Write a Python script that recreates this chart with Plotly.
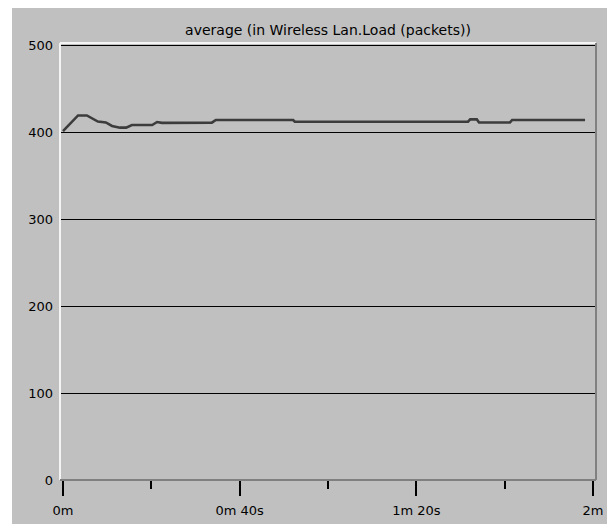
import plotly.graph_objects as go

# Average wireless LAN load over the 2-minute run (time in seconds, load in packets)
time_s = [0.0, 1.1, 2.0, 3.4, 5.4, 6.6, 7.9, 9.7, 11.1, 12.9, 14.3, 15.6, 20.2,
          21.3, 22.4, 33.7, 34.6, 52.1, 52.5, 91.7, 92.2, 93.7, 94.2, 101.2,
          101.7, 118.2]
load_packets = [401, 407, 412, 419, 419, 416, 412, 411, 407, 405, 405, 408, 408,
                411.5, 410.5, 410.7, 413.8, 413.8, 411.8, 411.8, 414.5, 414.5,
                411, 411, 413.8, 413.8]

x_tick_vals = [0, 40, 80, 120]
x_tick_text = ["0m", "0m 40s", "1m 20s", "2m"]
y_tick_vals = [0, 100, 200, 300, 400, 500]

title_text = "average (in Wireless Lan.Load (packets))"

FONT = "DejaVu Sans"
PANEL = "#c0c0c0"

fig = go.Figure()
fig.add_trace(go.Scatter(
    x=time_s, y=load_packets, mode="lines",
    line=dict(color="#3c3c3c", width=2.6),
    hoverinfo="skip", showlegend=False,
))

# window background: grey panel with a thin white strip on top and left
shapes = [
    dict(type="rect", xref="paper", yref="paper", layer="below",
         x0=(12 - 60) / 536, x1=(607 - 60) / 536,
         y0=(480 - 524) / 437, y1=(480 - 8) / 437,
         fillcolor=PANEL, line=dict(width=0)),
    # sunken frame around the plotting area
    dict(type="line", xref="paper", yref="paper", x0=0, x1=1, y0=1, y1=1,
         line=dict(color="#f4f4f4", width=2)),
    dict(type="line", xref="paper", yref="paper", x0=0, x1=0, y0=0, y1=1,
         line=dict(color="#f4f4f4", width=2)),
    dict(type="line", xref="paper", yref="paper", x0=1, x1=1, y0=0, y1=1,
         line=dict(color="#808080", width=2)),
    dict(type="line", xref="paper", yref="paper", x0=0, x1=1, y0=0, y1=0,
         line=dict(color="#808080", width=2)),
]

fig.update_layout(
    width=607, height=524,
    margin=dict(l=60, r=11, t=43, b=44),
    paper_bgcolor="#ffffff",
    plot_bgcolor="rgba(0,0,0,0)",
    font=dict(family=FONT, size=13, color="#000000"),
    title=dict(text=title_text, x=0.5, xref="paper", xanchor="center",
               y=1 - 30 / 524, yref="container", yanchor="middle",
               font=dict(family=FONT, size=14, color="#000000")),
    shapes=shapes,
    showlegend=False,
)

fig.update_xaxes(
    range=[-0.68, 120.68],
    tickvals=x_tick_vals, ticktext=x_tick_text,
    ticks="outside", ticklen=15, tickwidth=1.5, tickcolor="#000000",
    minor=dict(dtick=20, tick0=0, ticks="outside", ticklen=8,
               tickwidth=1.5, tickcolor="#000000", showgrid=False),
    showgrid=False, zeroline=False, showline=False,
    tickfont=dict(family=FONT, size=13, color="#000000"),
    ticklabelstandoff=3,
    automargin=False,
    fixedrange=True,
)

fig.update_yaxes(
    range=[0, 502.3],
    tickvals=y_tick_vals,
    ticks="", showgrid=True, gridcolor="#000000", gridwidth=1,
    zeroline=False, showline=False,
    tickfont=dict(family=FONT, size=13, color="#000000"),
    ticklabelstandoff=6,
    automargin=False,
    fixedrange=True,
)

fig.write_html("out.html")
